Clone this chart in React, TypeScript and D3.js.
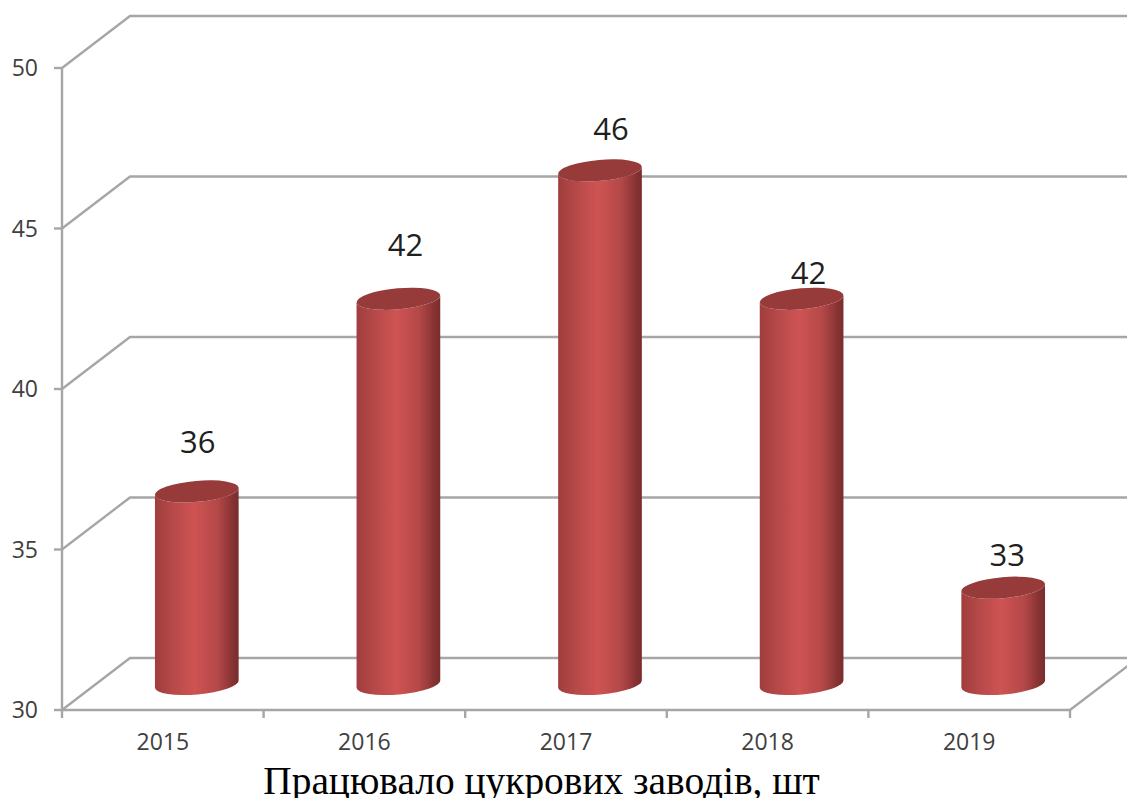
import React from "react";
import * as d3 from "d3";

const years = ["2015", "2016", "2017", "2018", "2019"];
const factories = [36, 42, 46, 42, 33];
const valueTicks = [30, 35, 40, 45, 50];
const caption = "Працювало цукрових заводів, шт";

const W = 1127;
const H = 798;
const DEPTH_X = 68;
const DEPTH_Y = -52;
const AXIS_COLOR = "#a6a6a6";
const SANS = "'Open Sans', 'Noto Sans', sans-serif";

// Hand placement of each value label relative to its cylinder's top, by year.
const labelLift: Record<string, number> = { "2015": 38, "2016": 43, "2017": 30, "2018": 15, "2019": 22 };
const labelShift: Record<string, number> = { "2015": 1, "2016": 7, "2017": 11, "2018": 7, "2019": 4 };

const band = d3.scaleBand<string>().domain(years).range([62, 1070]);
const y = d3.scaleLinear().domain([30, 50]).range([710, 68]);

const RX = 42;
const RY = 10.5;
const TILT = -5;

// Outline of the visible body: down the left side, along the bottom rim, up the right side, back over the top.
function bodyPath(cx: number, yTop: number, yBottom: number) {
  const rad = (TILT * Math.PI) / 180;
  const dx = RX * Math.cos(rad);
  const dy = RX * Math.sin(rad);
  return (
    `M${cx - dx},${yTop - dy} ` +
    `L${cx - dx},${yBottom - dy} ` +
    `A${RX},${RY} ${TILT} 0 0 ${cx + dx},${yBottom + dy} ` +
    `L${cx + dx},${yTop + dy} ` +
    `A${RX},${RY} ${TILT} 0 1 ${cx - dx},${yTop - dy} Z`
  );
}

export default function App() {
  const floorY = y(30);
  const tickXs = years.map((d) => band(d) as number).concat(1070);
  return (
    <svg width={W} height={H} viewBox={`0 0 ${W} ${H}`} style={{ position: "absolute", left: 0, top: 0, background: "#fff" }}>
      <defs>
        <linearGradient id="cyl" x1="0" x2="1" y1="0" y2="0">
          <stop offset="0" stopColor="#a03d3d" />
          <stop offset="0.2" stopColor="#b54848" />
          <stop offset="0.47" stopColor="#cf5353" />
          <stop offset="0.75" stopColor="#b44848" />
          <stop offset="0.93" stopColor="#863232" />
          <stop offset="1" stopColor="#7a2c2c" />
        </linearGradient>
      </defs>

      {valueTicks.map((t) => (
        <g key={t} fill="none" stroke={AXIS_COLOR} strokeWidth={2.4}>
          <path d={`M62,${y(t)} L${62 + DEPTH_X},${y(t) + DEPTH_Y} L${W},${y(t) + DEPTH_Y}`} />
          <line x1={54} x2={62} y1={y(t)} y2={y(t)} />
        </g>
      ))}

      <g stroke={AXIS_COLOR} strokeWidth={2.4} fill="none">
        <line x1={62} x2={62} y1={y(50)} y2={floorY} />
        <line x1={62} x2={1070} y1={floorY} y2={floorY} />
        <line x1={1070} x2={1070 + DEPTH_X} y1={floorY} y2={floorY + DEPTH_Y} />
        {tickXs.map((tx) => (
          <line key={tx} x1={tx} x2={tx} y1={floorY} y2={floorY + 8} />
        ))}
      </g>

      {valueTicks.map((t) => (
        <text key={t} x={38} y={y(t) + 8} textAnchor="end" fontFamily={SANS} fontSize={23} fill="#404040">
          {t}
        </text>
      ))}

      {years.map((yr, i) => {
        const front = (band(yr) as number) + band.bandwidth() / 2;
        const cx = front + DEPTH_X / 2;
        const yTop = y(factories[i]) + DEPTH_Y / 2;
        const yBottom = y(30) + DEPTH_Y / 2;
        return (
          <g key={yr}>
            <path d={bodyPath(cx, yTop, yBottom)} fill="url(#cyl)" />
            <ellipse cx={cx} cy={yTop} rx={RX} ry={RY} transform={`rotate(${TILT} ${cx} ${yTop})`} fill="#963a3a" />
            <text x={front} y={floorY + 40} textAnchor="middle" fontFamily={SANS} fontSize={23} fill="#404040">
              {yr}
            </text>
            <text x={cx + labelShift[yr]} y={yTop - labelLift[yr]} textAnchor="middle" fontFamily={SANS} fontSize={31} fill="#1f1f1f">
              {factories[i]}
            </text>
          </g>
        );
      })}

      <text x={541.5} y={794} textAnchor="middle" fontFamily="'Liberation Serif', serif" fontSize={39.4} fill="#000">
        {caption}
      </text>
    </svg>
  );
}
